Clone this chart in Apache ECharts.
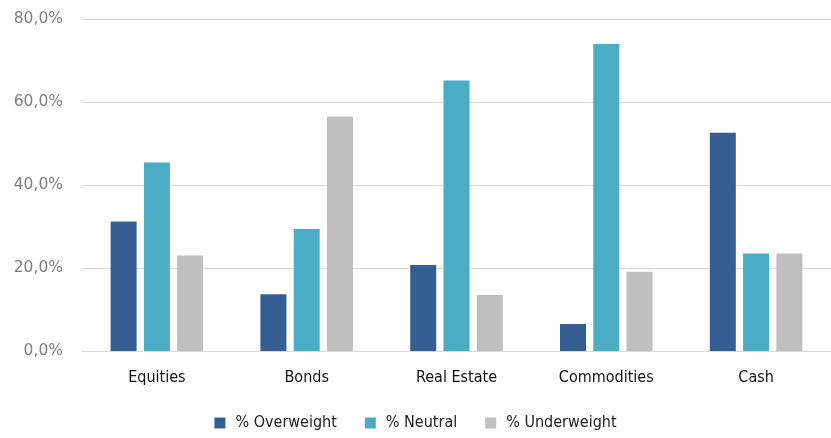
<!DOCTYPE html>
<html>
<head>
<meta charset="utf-8">
<script src="https://cdn.jsdelivr.net/npm/echarts@6/dist/echarts.min.js"></script>
<style>
  html, body { margin: 0; padding: 0; background: #ffffff; }
  #chart { width: 831px; height: 438px; }
</style>
</head>
<body>
<div id="chart"></div>
<script>
// Asset allocation positioning by asset class (share of respondents)
const categories = ['Equities', 'Bonds', 'Real Estate', 'Commodities', 'Cash'];
const overweight = [31.2, 13.7, 20.7, 6.5, 52.6];
const neutral = [45.4, 29.4, 65.2, 74.0, 23.5];
const underweight = [23.0, 56.5, 13.5, 19.1, 23.5];
const yTicks = [0, 20, 40, 60, 80];

const colors = ['#355f93', '#4bacc6', '#bfbfbf'];
const condensed = "'Liberation Sans Narrow', 'DejaVu Sans Condensed', 'Roboto', sans-serif";

const chart = echarts.init(document.getElementById('chart'), null, { renderer: 'canvas' });

function barSeries(name, data, color) {
  return {
    name: name,
    type: 'bar',
    data: data,
    barWidth: 26,
    barGap: '28%',
    itemStyle: { color: color },
    emphasis: { disabled: true }
  };
}

chart.setOption({
  animation: false,
  grid: { left: 82, right: -1, top: 19, bottom: 87, containLabel: false },
  legend: {
    bottom: 2,
    left: 'center',
    itemWidth: 11,
    itemHeight: 11,
    itemGap: 28,
    icon: 'rect',
    textStyle: { fontFamily: condensed, fontSize: 16, color: '#222222', padding: [0, 0, 0, 5] },
    data: ['% Overweight', '% Neutral', '% Underweight']
  },
  xAxis: {
    type: 'category',
    data: categories,
    axisLine: { show: true, lineStyle: { color: '#d9d9d9', width: 1 } },
    axisTick: { show: false },
    axisLabel: { fontFamily: condensed, fontSize: 16, color: '#111111', margin: 19 }
  },
  yAxis: {
    type: 'value',
    min: yTicks[0],
    max: yTicks[yTicks.length - 1],
    interval: 20,
    axisLine: { show: false },
    axisTick: { show: false },
    splitLine: { lineStyle: { color: '#d9d9d9', width: 1 } },
    axisLabel: {
      fontFamily: "'DejaVu Sans', sans-serif",
      fontSize: 15.5,
      color: '#7f7f7f',
      margin: 19,
      formatter: v => v.toFixed(1).replace('.', ',') + '%'
    }
  },
  series: [
    barSeries('% Overweight', overweight, colors[0]),
    barSeries('% Neutral', neutral, colors[1]),
    barSeries('% Underweight', underweight, colors[2])
  ]
});
</script>
</body>
</html>
